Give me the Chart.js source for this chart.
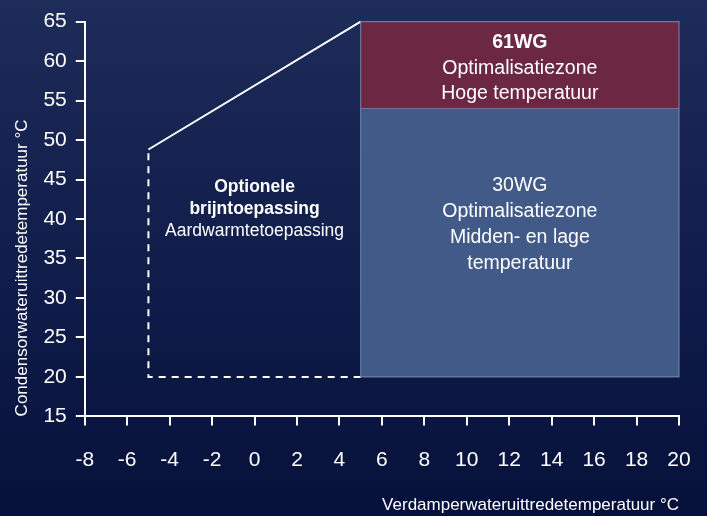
<!DOCTYPE html>
<html>
<head>
<meta charset="utf-8">
<script src="https://cdn.jsdelivr.net/npm/chart.js@4"></script>
<style>
  html, body { margin: 0; padding: 0; background: #0a1540; }
  canvas { display: block; }
</style>
</head>
<body>
<canvas id="envelopeChart" width="707" height="516"></canvas>
<script>
// axes
const xMin = -8, xMax = 20, xStep = 2;
const yMin = 15, yMax = 65, yStep = 5;
const xTitle = 'Verdamperwateruittredetemperatuur °C';
const yTitle = 'Condensorwateruittredetemperatuur °C';

// brine envelope (dashed part, then the solid slope)
const brineX = [5, -5, -5];
const brineY = [20, 20, 48.8];
const slopeX = [-5, 5];
const slopeY = [48.8, 65];

// zones: 30WG (mid/low) and 61WG (high)
const zone30X = [5, 20];
const zone30Y = [20, 65];
const zone61X = [5, 20];
const zone61Y = [54, 65];

const brineText = ['Optionele', 'brijntoepassing', 'Aardwarmtetoepassing'];
const zone30Text = ['30WG', 'Optimalisatiezone', 'Midden- en lage', 'temperatuur'];
const zone61Text = ['61WG', 'Optimalisatiezone', 'Hoge temperatuur'];

const FONT = '"Liberation Sans", Arial, Helvetica, sans-serif';

const bgPlugin = {
    id: 'bg',
    beforeDraw(chart) {
        const c = chart.ctx;
        const g = c.createLinearGradient(0, 0, 0, chart.height);
        g.addColorStop(0, '#1e2c5a');
        g.addColorStop(0.5, '#111d4b');
        g.addColorStop(1, '#06113b');
        c.save();
        c.fillStyle = g;
        c.fillRect(0, 0, chart.width, chart.height);
        c.restore();
    }
};

const labelPlugin = {
    id: 'zoneLabels',
    afterDatasetsDraw(chart) {
        const c = chart.ctx;
        const xs = chart.scales.x, ys = chart.scales.y;
        const block = (lines, cx, cy, lh, fonts) => {
            const top = cy - (lines.length - 1) * lh / 2;
            lines.forEach((t, i) => {
                c.font = fonts[i];
                c.fillText(t, cx, top + i * lh);
            });
        };
        c.save();
        c.fillStyle = '#ffffff';
        c.textAlign = 'center';
        c.textBaseline = 'middle';

        const r61 = 'normal 19.5px ' + FONT;
        const b61 = 'bold 19.5px ' + FONT;
        block(zone61Text,
            xs.getPixelForValue((zone61X[0] + zone61X[1]) / 2),
            ys.getPixelForValue((zone61Y[0] + zone61Y[1]) / 2) + 3.5,
            25.5, [b61, r61, r61]);

        const r30 = 'normal 19.5px ' + FONT;
        block(zone30Text,
            xs.getPixelForValue((zone30X[0] + zone30X[1]) / 2),
            ys.getPixelForValue(39.3),
            26, [r30, r30, r30, r30]);

        const bb = 'bold 17.5px ' + FONT;
        const rb = 'normal 17.5px ' + FONT;
        block(brineText,
            xs.getPixelForValue((brineX[1] + slopeX[1]) / 2),
            ys.getPixelForValue(41.3),
            22, [bb, bb, rb]);
        c.restore();
    }
};

const toPts = (xs, ys) => xs.map((x, i) => ({x, y: ys[i]}));

const ctx = document.getElementById('envelopeChart').getContext('2d');
const envelopeChart = new Chart(ctx, {
    type: 'scatter',
    data: {
        datasets: [
            {
                label: '61WG',
                type: 'line',
                data: toPts(zone61X, [zone61Y[1], zone61Y[1]]),
                fill: {value: zone61Y[0]},
                backgroundColor: 'rgba(108, 40, 66, 1)',
                borderColor: 'rgba(0,0,0,0)',
                pointRadius: 0,
                order: 1
            },
            {
                label: '30WG',
                type: 'line',
                data: toPts(zone30X, [zone30Y[1], zone30Y[1]]),
                fill: {value: zone30Y[0]},
                backgroundColor: 'rgba(66, 90, 136, 1)',
                borderColor: 'rgba(0,0,0,0)',
                pointRadius: 0,
                order: 2
            },
            {
                label: '30WG rand',
                type: 'line',
                data: toPts([zone30X[0], zone30X[1], zone30X[1], zone30X[0], zone30X[0]],
                            [zone30Y[0], zone30Y[0], zone30Y[1], zone30Y[1], zone30Y[0]]),
                fill: false,
                borderColor: 'rgba(120, 140, 180, 0.8)',
                borderWidth: 1.2,
                pointRadius: 0,
                order: 0
            },
            {
                label: '61WG rand',
                type: 'line',
                data: toPts(zone61X, [zone61Y[0], zone61Y[0]]),
                fill: false,
                borderColor: 'rgba(130, 140, 175, 0.7)',
                borderWidth: 1,
                pointRadius: 0,
                order: 0
            },
            {
                label: 'brijn',
                type: 'line',
                data: toPts(brineX, brineY),
                fill: false,
                borderColor: '#ffffff',
                borderWidth: 2,
                borderDash: [7, 6],
                pointRadius: 0,
                order: 0
            },
            {
                label: 'helling',
                type: 'line',
                data: toPts(slopeX, slopeY),
                fill: false,
                borderColor: '#ffffff',
                borderWidth: 2,
                pointRadius: 0,
                order: 0
            }
        ]
    },
    options: {
        responsive: false,
        animation: false,
        clip: false,
        layout: {padding: {top: 8, right: 12, left: 12, bottom: 0}},
        plugins: {
            legend: {display: false},
            tooltip: {enabled: false}
        },
        scales: {
            x: {
                type: 'linear',
                min: xMin, max: xMax,
                // tick padding would otherwise widen the right margin too
                afterFit: (s) => { s.paddingRight = 28; },
                border: {display: true, color: '#ffffff', width: 2},
                grid: {drawOnChartArea: false, drawTicks: true, tickLength: 9, color: '#ffffff', lineWidth: 2},
                ticks: {stepSize: xStep, color: '#ffffff', padding: 22, font: {family: FONT, size: 21}},
                title: {display: true, text: xTitle, align: 'end', color: '#ffffff',
                        padding: {top: 1, bottom: 0}, font: {family: FONT, size: 17}}
            },
            y: {
                type: 'linear',
                min: yMin, max: yMax,
                border: {display: true, color: '#ffffff', width: 2},
                grid: {drawOnChartArea: false, drawTicks: true, tickLength: 9, color: '#ffffff', lineWidth: 2},
                ticks: {stepSize: yStep, color: '#ffffff', padding: 9, font: {family: FONT, size: 21}},
                title: {display: true, text: yTitle, align: 'start', color: '#ffffff',
                        padding: {top: 0, bottom: 2}, font: {family: FONT, size: 17}}
            }
        }
    },
    plugins: [bgPlugin, labelPlugin]
});
</script>
</body>
</html>
